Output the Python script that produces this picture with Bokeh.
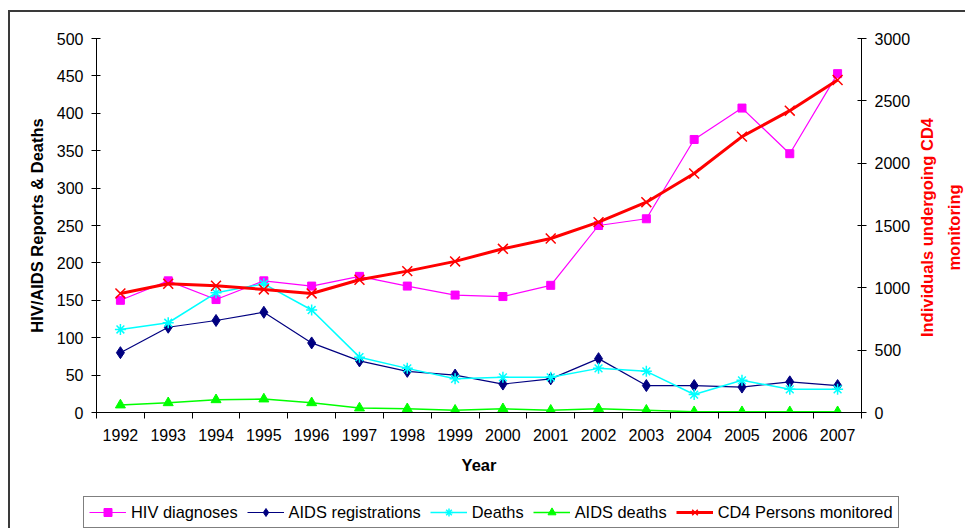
import math

from bokeh.plotting import figure
from bokeh.layouts import column, row
from bokeh.core.properties import value
from bokeh.models import (Range1d, LinearAxis, FixedTicker, Legend, LegendItem,
                          NumeralTickFormatter)
from bokeh.embed import file_html
from bokeh.resources import INLINE

# Annual HIV/AIDS surveillance figures
years = list(range(1992, 2008))
hiv_diagnoses = [150, 176, 151, 176, 169, 182, 169, 157, 155, 170, 250, 259, 365, 407, 346, 453]
aids_registrations = [80, 114, 123, 134, 93, 69, 55, 50, 38, 45, 72, 36, 36, 34, 41, 36]
deaths = [111, 120, 160, 172, 137, 74, 59, 45, 47, 47, 59, 55, 24, 43, 31, 31]
aids_deaths = [10, 13, 17, 18, 13, 6, 5, 3, 5, 3, 5, 3, 1, 1, 1, 1]
cd4_monitored = [955, 1033, 1017, 987, 955, 1065, 1134, 1212, 1313, 1396, 1527, 1687, 1917, 2213, 2421, 2667]

left_ticks = list(range(0, 501, 50))
right_ticks = list(range(0, 3001, 500))
year_bounds = [y - 0.5 for y in years] + [years[-1] + 0.5]

right_title = "Individuals undergoing CD4\nmonitoring"

FONT = "Liberation Sans"

# Series styles: (name, values, axis, line colour, line width, marker, marker size, filled)
series = [
    ("HIV diagnoses", hiv_diagnoses, "default", "#FF00FF", 1.2, "square", 8, True),
    ("AIDS registrations", aids_registrations, "default", "#000080", 1.2, "diamond", 12, True),
    ("Deaths", deaths, "default", "#00FFFF", 1.5, "asterisk", 11, False),
    ("AIDS deaths", aids_deaths, "default", "#00FF00", 1.5, "triangle", 10, True),
    ("CD4 Persons monitored", cd4_monitored, "cd4", "#FF0000", 3, "x", 14, False),
]


def add_series(fig, name, values, rng, color, lw, marker, size, filled):
    line = fig.line(years, values, y_range_name=rng, line_color=color, line_width=lw)
    mark = fig.scatter(years, values, y_range_name=rng, marker=marker, size=size,
                       fill_color=color if filled else None, line_color=color,
                       line_width=1 if filled else 1.5)
    return LegendItem(label=name, renderers=[line, mark])


def bare(fig):
    fig.outline_line_color = None
    fig.xgrid.visible = False
    fig.ygrid.visible = False
    fig.background_fill_color = "white"
    fig.border_fill_color = "white"


# ---- main chart ----
p = figure(width=905, height=476, output_backend="svg", toolbar_location=None,
           x_range=Range1d(years[0] - 0.5, years[-1] + 0.5),
           y_range=Range1d(left_ticks[0], left_ticks[-1]),
           min_border_left=86, min_border_right=54,
           min_border_top=26, min_border_bottom=76)
bare(p)
p.extra_y_ranges = {"cd4": Range1d(right_ticks[0], right_ticks[-1])}

# Bottom (year) axis: labels at category centres, ticks on the boundaries
xa = p.xaxis[0]
xa.ticker = FixedTicker(ticks=years, minor_ticks=year_bounds)
xa.formatter = NumeralTickFormatter(format="0")
xa.major_tick_in = 0
xa.major_tick_out = 0
xa.minor_tick_in = 0
xa.minor_tick_out = 6
xa.minor_tick_line_color = "black"
xa.axis_line_color = "black"
xa.major_label_text_font = FONT
xa.major_label_text_font_size = "16px"
xa.major_label_text_color = "black"
xa.major_label_standoff = 10
xa.axis_label = "Year"
xa.axis_label_text_font = FONT
xa.axis_label_text_font_style = "bold"
xa.axis_label_text_font_size = "16.5px"
xa.axis_label_text_color = "black"
xa.axis_label_standoff = 12

# Left axis: reports and deaths
ya = p.yaxis[0]
ya.ticker = FixedTicker(ticks=left_ticks, minor_ticks=[])
ya.major_tick_in = 4
ya.major_tick_out = 5
ya.major_tick_line_color = "black"
ya.axis_line_color = "black"
ya.major_label_text_font = FONT
ya.major_label_text_font_size = "16px"
ya.major_label_text_color = "black"
ya.major_label_standoff = 8
ya.axis_label = "HIV/AIDS Reports & Deaths"
ya.axis_label_text_font = FONT
ya.axis_label_text_font_style = "bold"
ya.axis_label_text_font_size = "16.5px"
ya.axis_label_text_color = "black"
ya.axis_label_standoff = 8

# Right axis: people under CD4 monitoring (title drawn in the strip beside it)
ra = LinearAxis(y_range_name="cd4", ticker=FixedTicker(ticks=right_ticks, minor_ticks=[]))
ra.major_tick_in = 4
ra.major_tick_out = 5
ra.major_tick_line_color = "black"
ra.axis_line_color = "black"
ra.major_label_text_font = FONT
ra.major_label_text_font_size = "16px"
ra.major_label_text_color = "black"
ra.major_label_standoff = 8
p.add_layout(ra, "right")

for s in series:
    add_series(p, *s)

# ---- right-hand title strip ----
tt = figure(width=50, height=476, output_backend="svg", toolbar_location=None,
            x_range=Range1d(0, 50), y_range=Range1d(0, 476),
            x_axis_location=None, y_axis_location=None, frame_align=False,
            min_border_left=0, min_border_right=0, min_border_top=0, min_border_bottom=0)
bare(tt)
tt.text(x=[25], y=[261], text=[right_title], angle=math.pi / 2,
        text_align="center", text_baseline="middle",
        text_font=value(FONT), text_font_style="bold", text_font_size="16.5px",
        text_line_height=1.5, text_color="#FF0000")

# ---- legend strip beneath the chart ----
# Its own copies of the series lie outside its view, so only the legend shows.
lg = figure(width=955, height=40, output_backend="svg", toolbar_location=None,
            x_range=Range1d(0, 1), y_range=Range1d(0, 1),
            x_axis_location=None, y_axis_location=None, frame_align=False,
            min_border_left=0, min_border_right=0, min_border_top=0, min_border_bottom=0)
bare(lg)
lg.extra_y_ranges = {"cd4": Range1d(0, 1)}

items = [add_series(lg, *s) for s in series]

legend = Legend(items=items, orientation="horizontal", location=(73, 0))
legend.padding = 5
legend.spacing = 9
legend.margin = 0
legend.label_standoff = 5
legend.glyph_width = 37
legend.glyph_height = 20
legend.label_height = 20
legend.label_text_font = FONT
legend.label_text_font_size = "16.4px"
legend.label_text_color = "black"
legend.border_line_color = "black"
legend.border_line_width = 1
legend.background_fill_color = "white"
legend.background_fill_alpha = 1
lg.add_layout(legend)

# Outer chart frame: a border on the top and left of the whole block
page = column(row(p, tt, spacing=0), lg, spacing=0)
page.styles = {"margin-left": "8px", "margin-top": "10px",
               "border-left": "2px solid #3a3a3a", "border-top": "2px solid #3a3a3a"}

open("out.html", "w").write(file_html(page, INLINE))
